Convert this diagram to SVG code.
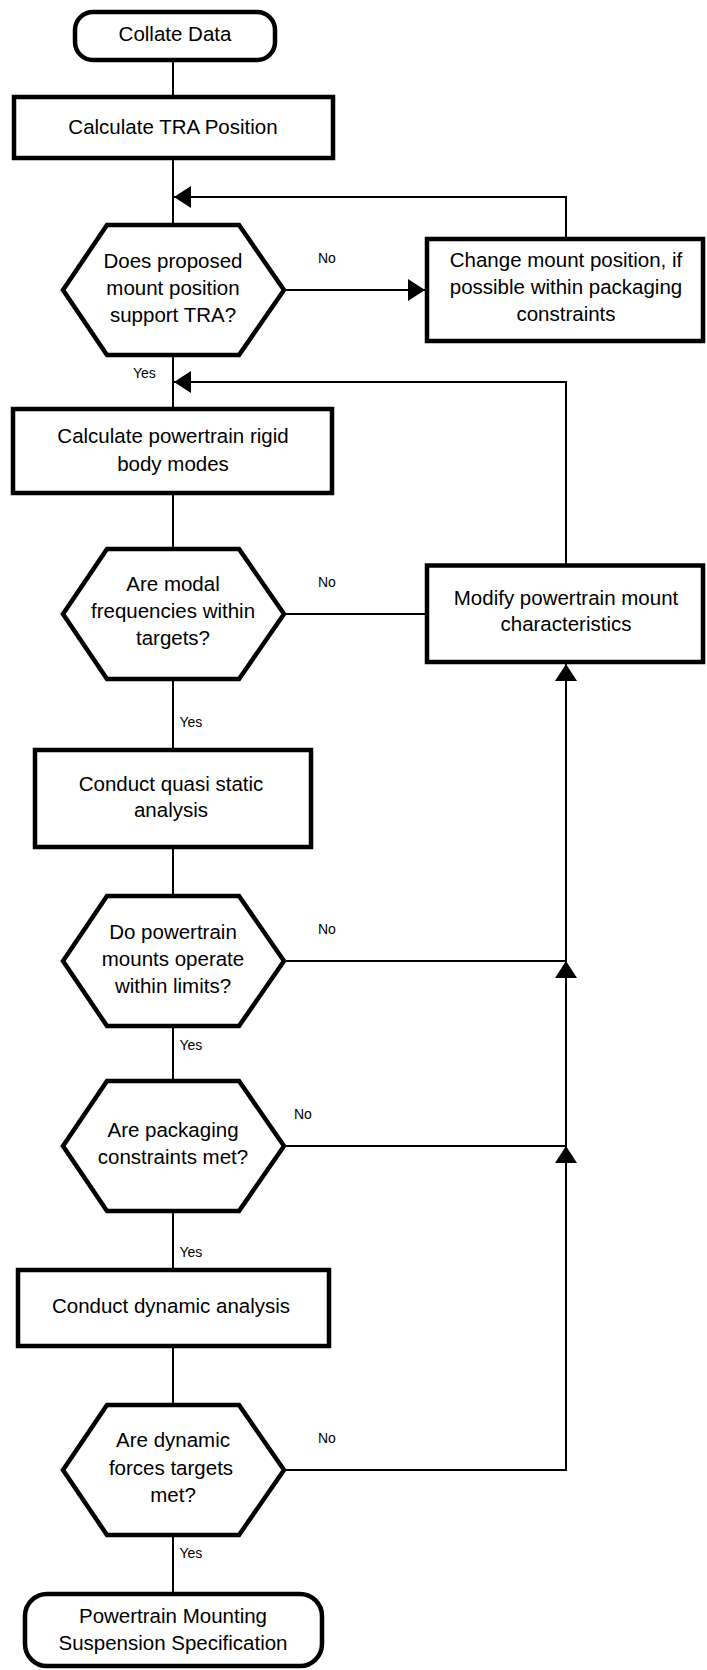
<svg xmlns="http://www.w3.org/2000/svg" width="707" height="1670" viewBox="0 0 707 1670">
<style>
.box{fill:#fff;stroke:#000;stroke-width:4.5}
.ln{fill:none;stroke:#000;stroke-width:2}
.t{font-family:"Liberation Sans",Arial,sans-serif;font-size:20.5px;fill:#000;text-anchor:middle}
.lb{font-family:"Liberation Sans",Arial,sans-serif;font-size:14px;fill:#000}
</style>
<defs>
<marker id="ah" markerUnits="userSpaceOnUse" markerWidth="18" markerHeight="22" refX="17" refY="11" orient="auto" viewBox="0 0 18 22">
<path d="M0,0 L17,11 L0,22 Z" fill="#000"/>
</marker>
</defs>
<rect width="707" height="1670" fill="#fff"/>
<g id="connectors">
<path class="ln" d="M173,60 V97"/>
<path class="ln" d="M173,158 V225"/>
<path class="ln" d="M173,355 V409"/>
<path class="ln" d="M173,493 V549"/>
<path class="ln" d="M173,679 V750"/>
<path class="ln" d="M173,847 V896"/>
<path class="ln" d="M173,1026 V1081"/>
<path class="ln" d="M173,1211 V1270"/>
<path class="ln" d="M173,1346 V1405"/>
<path class="ln" d="M173,1535 V1594"/>
<path class="ln" d="M284,290 H425" marker-end="url(#ah)"/>
<path class="ln" d="M566,239 V197 H174" marker-end="url(#ah)"/>
<path class="ln" d="M566,565 V382 H174" marker-end="url(#ah)"/>
<path class="ln" d="M284,614 H427"/>
<path class="ln" d="M284,961 H566"/>
<path class="ln" d="M284,1146 H566"/>
<path class="ln" d="M284,1470 H566 V1146" marker-end="url(#ah)"/>
<path class="ln" d="M566,1146 V961" marker-end="url(#ah)"/>
<path class="ln" d="M566,961 V664" marker-end="url(#ah)"/>
<text class="lb" x="318" y="263">No</text>
<text class="lb" x="133" y="378">Yes</text>
<text class="lb" x="318" y="587">No</text>
<text class="lb" x="179.5" y="727">Yes</text>
<text class="lb" x="318" y="934">No</text>
<text class="lb" x="179.5" y="1050">Yes</text>
<text class="lb" x="294" y="1119">No</text>
<text class="lb" x="179.5" y="1257">Yes</text>
<text class="lb" x="318" y="1443">No</text>
<text class="lb" x="179.5" y="1558">Yes</text>
</g>
<g id="collate">
<rect class="box" x="75" y="12" width="200" height="48" rx="18"/>
<text class="t" x="175" y="41">Collate Data</text>
</g>
<g id="tra">
<rect class="box" x="14" y="97" width="319" height="61"/>
<text class="t" x="173" y="133.5">Calculate TRA Position</text>
</g>
<g id="dec-tra">
<polygon class="box" points="63,290 107,225 239,225 284,290 239,355 107,355"/>
<text class="t" x="173" y="268">Does proposed</text>
<text class="t" x="173" y="295">mount position</text>
<text class="t" x="173" y="322">support TRA?</text>
</g>
<g id="change">
<rect class="box" x="427" y="239" width="276" height="102"/>
<text class="t" x="566" y="267">Change mount position, if</text>
<text class="t" x="566" y="294">possible within packaging</text>
<text class="t" x="566" y="321">constraints</text>
</g>
<g id="rigid">
<rect class="box" x="13" y="409" width="319" height="84"/>
<text class="t" x="173" y="443">Calculate powertrain rigid</text>
<text class="t" x="173" y="471">body modes</text>
</g>
<g id="dec-modal">
<polygon class="box" points="63,614 107,549 239,549 284,614 239,679 107,679"/>
<text class="t" x="173" y="591">Are modal</text>
<text class="t" x="173" y="618">frequencies within</text>
<text class="t" x="173" y="645">targets?</text>
</g>
<g id="modify">
<rect class="box" x="427" y="565.5" width="276" height="96.5"/>
<text class="t" x="566" y="605">Modify powertrain mount</text>
<text class="t" x="566" y="631">characteristics</text>
</g>
<g id="quasi">
<rect class="box" x="35" y="750" width="276" height="97"/>
<text class="t" x="171" y="791">Conduct quasi static</text>
<text class="t" x="171" y="817">analysis</text>
</g>
<g id="dec-limits">
<polygon class="box" points="63,961 107,896 239,896 284,961 239,1026 107,1026"/>
<text class="t" x="173" y="939">Do powertrain</text>
<text class="t" x="173" y="966">mounts operate</text>
<text class="t" x="173" y="993">within limits?</text>
</g>
<g id="dec-packaging">
<polygon class="box" points="63,1146 107,1081 239,1081 284,1146 239,1211 107,1211"/>
<text class="t" x="173" y="1137">Are packaging</text>
<text class="t" x="173" y="1164">constraints met?</text>
</g>
<g id="dynamic">
<rect class="box" x="18" y="1270" width="311" height="76"/>
<text class="t" x="171" y="1313">Conduct dynamic analysis</text>
</g>
<g id="dec-dynamic">
<polygon class="box" points="63,1470 107,1405 239,1405 284,1470 239,1535 107,1535"/>
<text class="t" x="173" y="1447">Are dynamic</text>
<text class="t" x="171" y="1475">forces targets</text>
<text class="t" x="173" y="1502">met?</text>
</g>
<g id="spec">
<rect class="box" x="25" y="1594" width="297" height="72" rx="22"/>
<text class="t" x="173" y="1623">Powertrain Mounting</text>
<text class="t" x="173" y="1650">Suspension Specification</text>
</g>
</svg>
